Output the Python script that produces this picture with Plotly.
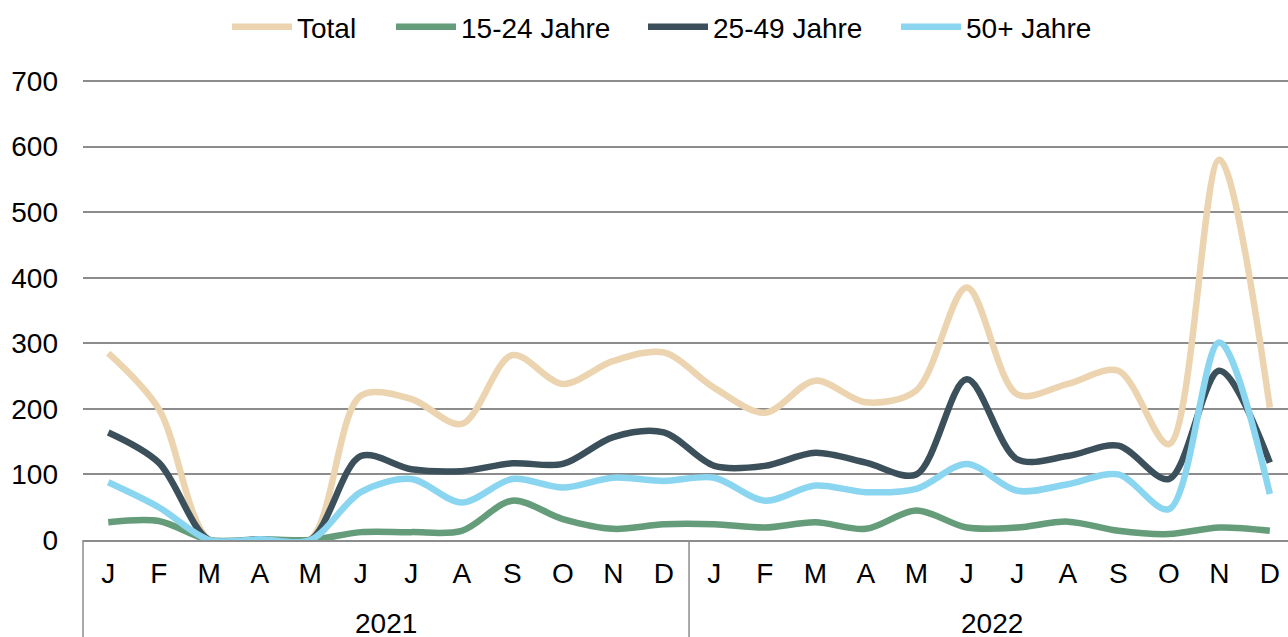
import plotly.graph_objects as go

months = ["J", "F", "M", "A", "M", "J", "J", "A", "S", "O", "N", "D"]
years = ["2021", "2022"]

total = [285, 200, 0, 1, 1, 220, 215, 177, 282, 238, 273, 286,
         232, 194, 243, 210, 228, 385, 222, 238, 258, 146, 580, 202]
age_15_24 = [27, 29, 0, 1, 0, 12, 12, 14, 60, 32, 17, 24,
             24, 19, 27, 17, 45, 19, 19, 28, 14, 9, 19, 14]
age_25_49 = [164, 118, 0, 1, 0, 128, 108, 105, 117, 116, 157, 164,
             113, 113, 133, 118, 100, 245, 123, 128, 144, 93, 258, 118]
age_50 = [88, 50, 0, 1, 0, 73, 93, 57, 93, 80, 95, 90,
          95, 60, 83, 73, 78, 116, 75, 85, 100, 47, 301, 70]

series = [
    ("Total", total, "#ebd4af"),
    ("15-24 Jahre", age_15_24, "#659c7a"),
    ("25-49 Jahre", age_25_49, "#3b505a"),
    ("50+ Jahre", age_50, "#8ad5ef"),
]
# left edge (px) of each legend entry, as in the reference layout
legend_left = [232, 396, 648, 901]

tick_text = months * len(years)
x_idx = list(range(len(tick_text)))

FONT = "Liberation Sans, Arial, sans-serif"
GRID = "#8c8c8c"
FS = 28
W, H = 1288, 637
TOP, BOTTOM = 79, 97
PLOT_H = H - TOP - BOTTOM
X_MIN, X_MAX = -0.5, 23.36   # the category axis runs slightly past the right edge
X_SPAN = X_MAX - X_MIN

fig = go.Figure()
legend_layout = {}
for i, (name, vals, col) in enumerate(series):
    lg = "legend" if i == 0 else f"legend{i + 1}"
    fig.add_trace(go.Scatter(
        x=x_idx, y=vals, name=name, mode="lines", legend=lg,
        line=dict(color=col, width=6.5, shape="spline", smoothing=0.9),
    ))
    legend_layout[lg] = dict(
        orientation="h", x=(legend_left[i] - 5) / W, xanchor="left",
        y=1 - 27 / H, yanchor="middle", xref="container", yref="container",
        font=dict(size=FS, family=FONT), itemwidth=60, bgcolor="rgba(0,0,0,0)",
    )

fig.update_layout(
    width=W, height=H,
    margin=dict(l=83, r=0, t=TOP, b=BOTTOM),
    paper_bgcolor="white", plot_bgcolor="white",
    font=dict(family=FONT, size=FS, color="#000000"),
    showlegend=True,
    xaxis=dict(
        range=[X_MIN, X_MAX], automargin=False,
        tickmode="array", tickvals=x_idx, ticktext=tick_text,
        showgrid=False, zeroline=False, showline=True, linecolor=GRID, linewidth=1.5,
        ticks="", ticklabelstandoff=8, tickfont=dict(size=FS),
    ),
    yaxis=dict(
        range=[0, 703], automargin=False, tickmode="linear", tick0=0, dtick=100,
        showgrid=True, gridcolor=GRID, gridwidth=1.5, zeroline=False,
        showline=False, ticks="", ticklabelstandoff=24, tickfont=dict(size=FS),
    ),
    **legend_layout,
)

# year group dividers and labels (placed on the category axis scale)
n_m = len(months)
for k in range(len(years) + 1):
    fx = (k * n_m - 0.5 - X_MIN) / X_SPAN
    if fx <= 1.0:
        fig.add_shape(type="line", xref="paper", yref="paper", x0=fx, x1=fx,
                      y0=0, y1=-0.3, line=dict(color=GRID, width=1.5))
for k, yr in enumerate(years):
    fx = (k * n_m + (n_m - 1) / 2 - X_MIN) / X_SPAN
    fig.add_annotation(text=yr, xref="paper", yref="paper", x=fx, y=-83 / PLOT_H,
                       xanchor="center", yanchor="middle", showarrow=False,
                       font=dict(size=FS, family=FONT))

fig.write_html("out.html", config={"displayModeBar": False},
               post_script="document.body.style.margin='0';")
